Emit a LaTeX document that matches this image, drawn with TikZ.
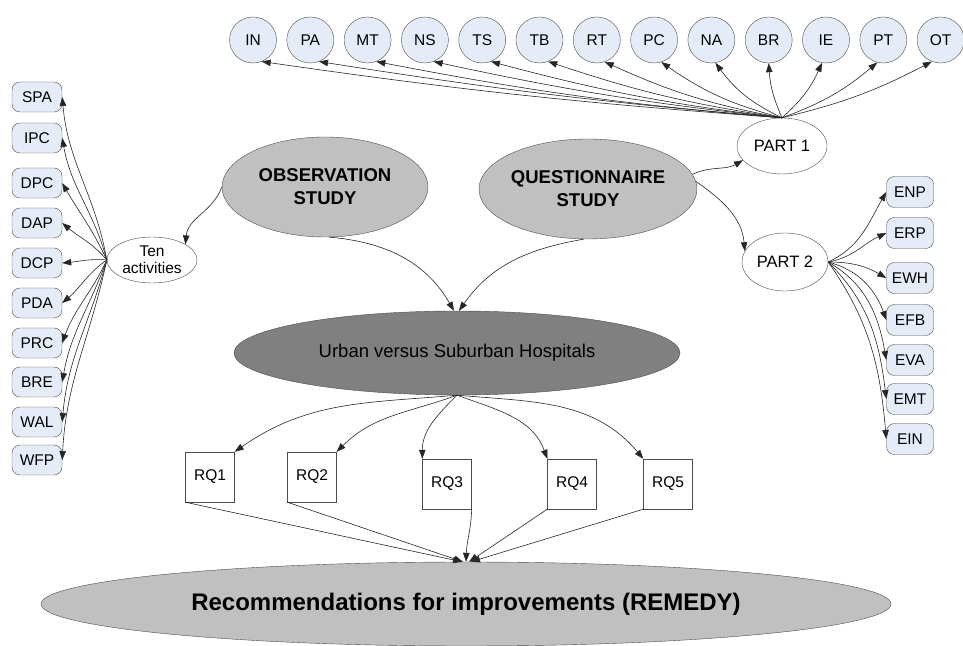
\documentclass[tikz,border=0pt]{standalone}
\usepackage{fontspec}
\setmainfont{Liberation Sans}
\usetikzlibrary{arrows.meta,shapes.geometric,calc}
\definecolor{blueish}{HTML}{E6ECF7}
\definecolor{grayA}{HTML}{C0C0C0}
\definecolor{grayB}{HTML}{808080}
\begin{document}
\begin{tikzpicture}[x=1pt,y=1pt,
  lbl/.style={font=\fontsize{15.5}{17}\selectfont},
  cir/.style={ellipse, draw=black!70, fill=blueish, minimum width=47pt, minimum height=46pt, inner sep=0pt, lbl},
  rbox/.style={rectangle, rounded corners=8pt, draw=black!70, fill=blueish, minimum width=50pt, minimum height=30pt, inner sep=0pt, lbl},
  wel/.style={ellipse, draw=black!70, fill=white, inner sep=0pt},
  gel/.style={ellipse, draw=black!70, inner sep=0pt},
  rq/.style={rectangle, draw=black!70, fill=white, minimum width=49pt, minimum height=50pt, inner sep=0pt, lbl},
  arr/.style={draw=black!85, line width=0.6pt, -{Triangle[length=9pt,width=6.5pt]}},
]
\useasboundingbox (0,0) rectangle (963,645);

% top circles
\foreach \n [count=\k from 0] in {IN,PA,MT,NS,TS,TB,RT,PC,NA,BR,IE,PT,OT}
  \node[cir] (c\n) at ({253+57.3*\k},605) {\n};

% left boxes
\foreach \n/\y in {SPA/548,IPC/507,DPC/462,DAP/422,DCP/382,PDA/342,PRC/302,BRE/263,WAL/223,WFP/185}
  \node[rbox] (l\n) at (37,\y) {\n};

% right boxes
\foreach \n/\y in {ENP/453,ERP/412,EWH/367,EFB/325,EVA/285,EMT/246,EIN/206}
  \node[rbox, minimum width=47pt, minimum height=31pt] (r\n) at (910,\y) {\n};

% ellipses
\node[wel, minimum width=90pt, minimum height=56pt, font=\fontsize{16.5}{18}\selectfont] (p1) at (782,499) {PART 1};
\node[wel, minimum width=86pt, minimum height=58pt, font=\fontsize{16.5}{18}\selectfont] (p2) at (785,383) {PART 2};
\node[wel, minimum width=90pt, minimum height=46pt, align=center, font=\fontsize{15.5}{17}\selectfont] (ten) at (152,385) {Ten\\activities};
\node[gel, fill=grayA, minimum width=206pt, minimum height=100pt, align=center, font=\fontsize{18.5}{23}\selectfont\bfseries] (obs) at (325,458) {OBSERVATION\\STUDY};
\node[gel, fill=grayA, minimum width=206pt, minimum height=100pt, align=center, font=\fontsize{18.5}{23}\selectfont\bfseries] (qst) at (588,456) {QUESTIONNAIRE\\STUDY};
\node[gel, fill=grayB, minimum width=446pt, minimum height=84pt, font=\fontsize{18.5}{21}\selectfont] (urb) at (457,292) {Urban versus Suburban Hospitals};
\node[gel, fill=grayA, minimum width=850pt, minimum height=84pt, font=\fontsize{24}{27}\selectfont\bfseries] (rec) at (466,41) {Recommendations for improvements (REMEDY)};

% RQ boxes
\node[rq] (rq1) at (210,168) {RQ1};
\node[rq] (rq2) at (312,168) {RQ2};
\node[rq] (rq3) at (447,161) {RQ3};
\node[rq] (rq4) at (572,161) {RQ4};
\node[rq] (rq5) at (668,161) {RQ5};

% PART 1 -> circles
\foreach \n/\a/\b in {IN/-68/2,PA/-68/2,MT/-68/3,NS/-68/3,TS/-68/4,TB/-68/5,RT/-70/7,PC/-72/10,NA/-80/14,BR/-90/10,IE/-100/-12,PT/-105/-10,OT/-112/-7}
  \draw[arr] (p1.north) to[bend left=\b] (c\n.\a);

% Ten activities -> left boxes
\foreach \n/\o/\i in {SPA/100/-85,IPC/105/-80,DPC/115/-60,DAP/130/-40,DCP/175/5,PDA/215/40,PRC/245/70,BRE/250/80,WAL/255/85,WFP/258/87}
  \draw[arr] (ten.west) to[out=\o,in=\i] (l\n.east);

% PART 2 -> right boxes
\foreach \n/\o/\i in {ENP/25/-120,ERP/10/-155,EWH/0/150,EFB/-15/110,EVA/-30/100,EMT/-45/97,EIN/-55/95}
  \draw[arr] (p2.east) to[out=\o,in=\i] (r\n.west);

% studies
\draw[arr] (obs.west) to[out=-110,in=85] (ten.25);
\draw[arr] (obs.-85) to[out=-5,in=120] ($(urb.north)+(-3,0)$);
\draw[arr] (qst.-95) to[out=190,in=55] ($(urb.north)+(2,0)$);
\draw[arr] (qst.8) to[out=25,in=-150] (p1.200);
\draw[arr] (qst.4) to[out=-35,in=95] (p2.165);

% urban -> RQ
\draw[arr] (urb.south) to[out=185,in=35] (rq1.north east);
\draw[arr] (urb.south) to[out=200,in=45] (rq2.north east);
\draw[arr] (urb.south) to[out=225,in=90] (rq3.north west);
\draw[arr] (urb.south) to[out=-20,in=110] (rq4.north west);
\draw[arr] (urb.south) to[out=-5,in=130] (rq5.north west);

% RQ -> recommendations
\draw[arr] (rq1.south west) -- ($(rec.north)+(-4,0)$);
\draw[arr] (rq2.south west) -- ($(rec.north)+(-3,0)$);
\draw[arr] (rq3.south east) to[out=-92,in=88] ($(rec.north)+(0,0)$);
\draw[arr] (rq4.south west) -- ($(rec.north)+(3,0)$);
\draw[arr] (rq5.south west) -- ($(rec.north)+(5,0)$);
\end{tikzpicture}
\end{document}
